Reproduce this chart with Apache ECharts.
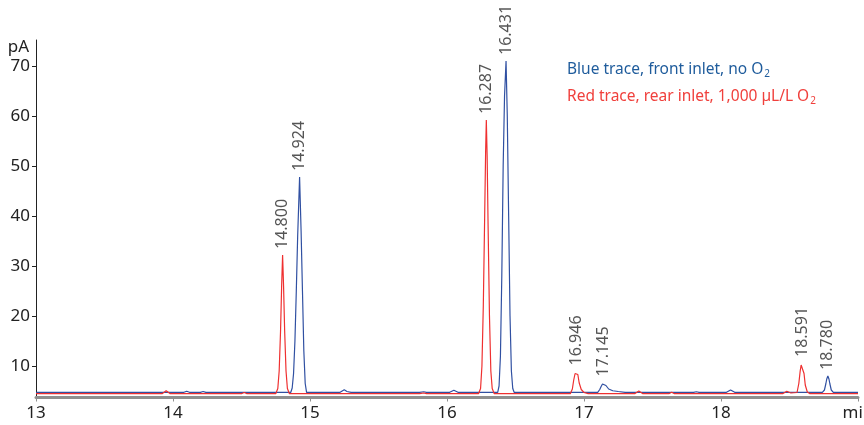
<!DOCTYPE html>
<html>
<head>
<meta charset="utf-8">
<script src="https://cdn.jsdelivr.net/npm/echarts@6/dist/echarts.min.js"></script>
<style>
  html, body { margin: 0; padding: 0; background: #fff; }
  #chart { width: 864px; height: 425px; }
</style>
</head>
<body>
<div id="chart"></div>
<script>
// ---- Data ----
const seriesNames = ['Blue trace, front inlet, no O2', 'Red trace, rear inlet, 1,000 \u00b5L/L O2'];

// Blue trace (time in min, signal in pA)
const blueTime = [13.00, 13.50, 14.00, 14.08, 14.10, 14.12, 14.20, 14.22, 14.24, 14.50,
  14.86, 14.87, 14.88, 14.89, 14.90, 14.91, 14.924, 14.935, 14.945, 14.955, 14.965, 14.975,
  15.22, 15.25, 15.27, 15.30, 15.80, 15.83, 15.85, 16.02, 16.05, 16.08,
  16.37, 16.38, 16.39, 16.40, 16.41, 16.42, 16.431, 16.44, 16.45, 16.46, 16.47, 16.48, 16.49,
  17.10, 17.115, 17.125, 17.135, 17.145, 17.16, 17.18, 17.21, 17.25, 17.30,
  17.80, 17.82, 17.84, 18.04, 18.07, 18.10,
  18.74, 18.755, 18.765, 18.772, 18.78, 18.788, 18.795, 18.805, 18.82, 19.00];
const blueValue = [4.74, 4.74, 4.74, 4.74, 4.95, 4.74, 4.74, 4.90, 4.74, 4.74,
  4.74, 5.6, 8.5, 15.0, 25.0, 36.0, 47.8, 37.0, 25.0, 13.0, 6.5, 4.74,
  4.74, 5.25, 4.9, 4.74, 4.74, 4.85, 4.74, 4.74, 5.15, 4.74,
  4.74, 6.0, 12.0, 28.0, 50.0, 64.0, 71.0, 60.0, 40.0, 20.0, 9.0, 5.5, 4.74,
  4.74, 5.3, 5.9, 6.4, 6.7, 6.1, 5.4, 5.05, 4.9, 4.74,
  4.74, 4.85, 4.74, 4.74, 5.2, 4.74,
  4.74, 5.2, 6.4, 7.4, 8.0, 7.4, 6.4, 5.2, 4.74, 4.74];

// Red trace
const redTime = [13.00, 13.50, 13.92, 13.95, 13.98, 14.30, 14.50, 14.52, 14.54, 14.70,
  14.75, 14.765, 14.775, 14.785, 14.793, 14.800, 14.807, 14.815, 14.825, 14.835, 14.85,
  15.50, 15.80, 15.83, 15.85,
  16.23, 16.245, 16.255, 16.265, 16.275, 16.282, 16.287, 16.293, 16.30, 16.31, 16.32, 16.33, 16.345,
  16.90, 16.915, 16.925, 16.935, 16.946, 16.955, 16.965, 16.98, 17.00, 17.03,
  17.37, 17.40, 17.43, 17.62, 17.64, 17.66,
  18.45, 18.48, 18.51, 18.555, 18.568, 18.578, 18.585, 18.591, 18.598, 18.606, 18.615, 18.63, 18.65, 19.00];
const redValue = [4.46, 4.46, 4.46, 5.05, 4.46, 4.46, 4.46, 4.7, 4.46, 4.46,
  4.46, 5.5, 9.0, 17.0, 26.0, 32.2, 26.0, 17.0, 9.0, 5.5, 4.46,
  4.46, 4.46, 4.6, 4.46,
  4.46, 5.5, 10.0, 22.0, 40.0, 53.0, 59.2, 52.0, 38.0, 20.0, 9.0, 5.5, 4.46,
  4.46, 5.4, 7.2, 8.5, 8.9, 8.3, 6.6, 5.3, 4.7, 4.46,
  4.46, 5.0, 4.46, 4.46, 4.75, 4.46,
  4.46, 4.95, 4.6, 4.7, 6.5, 9.0, 10.2, 10.6, 10.1, 8.5, 6.2, 4.8, 4.46, 4.46];

// Peak annotations (retention time, apex height)
const peakTimes = [14.800, 14.924, 16.287, 16.431, 16.946, 17.145, 18.591, 18.780];
const peakHeights = [32.2, 47.8, 59.2, 71.0, 8.9, 6.7, 10.6, 8.0];

// Axis ticks
const xTicks = [13, 14, 15, 16, 17, 18, 19];
const xTickText = ['13', '14', '15', '16', '17', '18', 'min'];
const yTicks = [10, 20, 30, 40, 50, 60, 70];

// ---- Chart ----
const FONT = '"Noto Sans", "DejaVu Sans Condensed", sans-serif';
const STRETCH = 'condensed';
const BLUE = '#3050a2';
const RED = '#ef3030';

const zip = (a, b) => a.map((v, i) => [v, b[i]]);

const chart = echarts.init(document.getElementById('chart'), null, { renderer: 'canvas' });
chart.setOption({
  animation: false,
  backgroundColor: '#ffffff',
  textStyle: { fontFamily: FONT, fontWeight: STRETCH },
  grid: { left: 36, right: 6, top: 40, bottom: 27.5, containLabel: false, outerBoundsMode: 'none' },
  legend: {
    left: 557,
    top: 57,
    orient: 'vertical',
    itemGap: 10,
    icon: 'none',
    itemWidth: 0,
    itemHeight: 0,
    selectedMode: false,
    data: [
      { name: seriesNames[0], textStyle: { color: '#1f5c9c' } },
      { name: seriesNames[1], textStyle: { color: '#f0403c' } }
    ],
    formatter: function (name) {
      return '{m|' + name.slice(0, -1) + '}{s|2}';
    },
    textStyle: {
      fontFamily: FONT,
      fontWeight: STRETCH,
      fontSize: 15.5,
      rich: {
        m: { fontFamily: FONT, fontWeight: STRETCH, fontSize: 15.5, lineHeight: 18 },
        s: { fontFamily: FONT, fontWeight: STRETCH, fontSize: 10, lineHeight: 18, verticalAlign: 'bottom', padding: [6, 0, 0, 1] }
      }
    }
  },
  xAxis: {
    type: 'value',
    min: 13,
    max: 19,
    interval: 1,
    splitLine: { show: false },
    axisLine: { show: true, lineStyle: { color: '#8f8f8f', width: 3 } },
    axisTick: { show: true, inside: false, length: 4, lineStyle: { color: '#8f8f8f', width: 1 } },
    axisLabel: {
      margin: 7,
      fontFamily: FONT,
      fontWeight: STRETCH,
      fontSize: 17,
      color: '#222',
      formatter: function (v) {
        const i = xTicks.indexOf(v);
        return i >= 0 ? xTickText[i] : '';
      }
    }
  },
  yAxis: {
    type: 'value',
    min: 3.7,
    max: 75.2,
    name: 'pA',
    nameLocation: 'end',
    nameGap: -7,
    nameTextStyle: { fontFamily: FONT, fontWeight: STRETCH, fontSize: 17, color: '#222', align: 'right', verticalAlign: 'middle', padding: [0, 7, 0, 0] },
    splitLine: { show: false },
    axisLine: { show: true, onZero: false, lineStyle: { color: '#222', width: 1 } },
    axisTick: { show: true, inside: false, length: 4, customValues: yTicks, lineStyle: { color: '#222' } },
    axisLabel: { show: true, margin: 6, fontFamily: FONT, fontWeight: STRETCH, fontSize: 17, color: '#222', customValues: yTicks }
  },
  series: [
    {
      name: seriesNames[0],
      type: 'line',
      data: zip(blueTime, blueValue),
      symbol: 'none',
      color: BLUE,
      lineStyle: { color: BLUE, width: 1.2 },
      z: 2
    },
    {
      name: seriesNames[1],
      type: 'line',
      data: zip(redTime, redValue),
      symbol: 'none',
      color: RED,
      lineStyle: { color: RED, width: 1.2 },
      z: 3
    },
    {
      name: 'peaks',
      type: 'scatter',
      data: zip(peakTimes, peakHeights),
      symbolSize: 0,
      silent: true,
      z: 5,
      label: {
        show: true,
        position: 'top',
        distance: 6,
        rotate: 90,
        align: 'left',
        verticalAlign: 'middle',
        fontFamily: FONT,
        fontWeight: STRETCH,
        fontSize: 16,
        color: '#2a2a2a',
        formatter: function (p) { return p.value[0].toFixed(3); }
      }
    }
  ]
});
</script>
</body>
</html>
